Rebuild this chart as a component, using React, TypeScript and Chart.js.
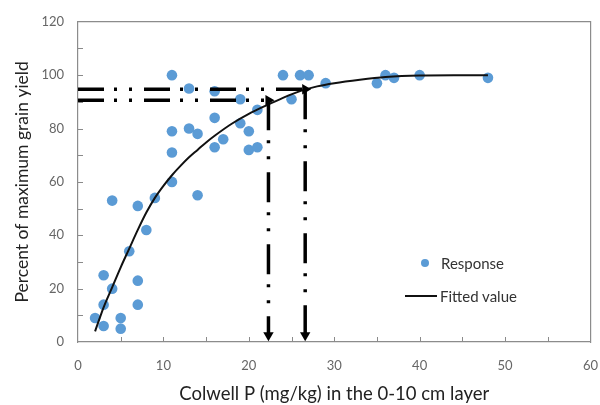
import React, { useEffect, useRef } from "react";
import { Chart, registerables } from "chart.js";

Chart.register(...registerables);

// Observed responses (Colwell P mg/kg, % of max grain yield)
const responseX = [2, 3, 3, 3, 4, 4, 5, 5, 6, 7, 7, 7, 8, 9, 11, 11, 11, 11, 13, 13, 14, 14, 16, 16, 16, 17, 19, 19, 20, 20, 21, 21, 24, 25, 26, 27, 29, 35, 36, 37, 40, 48];
const responseY = [9, 6, 14, 25, 20, 53, 5, 9, 34, 14, 23, 51, 42, 54, 60, 71, 79, 100, 80, 95, 55, 78, 73, 84, 94, 76, 82, 91, 72, 79, 73, 87, 100, 91, 100, 100, 97, 97, 100, 99, 100, 99];

// Fitted curve
const fittedX = [2, 3, 4, 5, 6, 7, 8, 9, 10, 11, 12, 13, 14, 15, 16, 18, 20, 22, 24, 26, 28, 30, 33, 36, 40, 44, 48];
const fittedY = [4, 13, 20.5, 28, 35, 42, 48.5, 54, 58.5, 62.5, 66, 69.2, 72, 74.8, 77.3, 81.8, 85.5, 88.6, 91.5, 94, 95.8, 97, 98.3, 99.3, 99.9, 100, 100];

// Critical values (arrows)
const criticalX = [22.3, 26.6];
const criticalY = [90.6, 94.7];

const xTicks = [0, 10, 20, 30, 40, 50, 60];
const yTicks = [0, 20, 40, 60, 80, 100, 120];

const BLUE = "#5B9BD5";
const FONT = "Lato, 'Open Sans', sans-serif";
const FRAME = "#8c8c8c";

const innerTicks = {
  id: "innerTicks",
  afterDatasetsDraw(chart: any) {
    const { ctx, chartArea, scales } = chart;
    ctx.save();
    ctx.setLineDash([]);
    ctx.strokeStyle = "#8a8a8a";
    ctx.lineWidth = 1;
    for (let v = 5; v < 60; v += 5) {
      const px = Math.round(scales.x.getPixelForValue(v)) + 0.5;
      ctx.beginPath();
      ctx.moveTo(px, chartArea.bottom);
      ctx.lineTo(px, chartArea.bottom - 5);
      ctx.stroke();
    }
    for (let v = 10; v < 120; v += 10) {
      const py = Math.round(scales.y.getPixelForValue(v)) + 0.5;
      ctx.beginPath();
      ctx.moveTo(chartArea.left, py);
      ctx.lineTo(chartArea.left + 5, py);
      ctx.stroke();
    }
    ctx.restore();
  },
};

export default function App() {
  const ref = useRef<HTMLCanvasElement>(null);

  useEffect(() => {
    if (!ref.current) return;
    const arrowDatasets: any[] = [];
    criticalX.forEach((cx, i) => {
      const cy = criticalY[i];
      arrowDatasets.push({
        type: "line",
        label: "h" + i,
        data: [{ x: 0, y: cy }, { x: cx, y: cy }],
        borderColor: "#000",
        backgroundColor: "#000",
        borderWidth: 3.5,
        borderDash: [26, 10, 3, 12, 3, 12],
        pointStyle: "triangle",
        rotation: 90,
        pointRadius: [0, 6],
        pointBorderWidth: 0,
        order: 0,
      });
      arrowDatasets.push({
        type: "line",
        label: "v" + i,
        data: [{ x: cx, y: cy }, { x: cx, y: 2.5 }],
        borderColor: "#000",
        backgroundColor: "#000",
        borderWidth: 3.5,
        borderDash: [30, 10, 3, 13, 3, 13],
        pointStyle: "triangle",
        rotation: 180,
        pointRadius: [0, 6],
        pointBorderWidth: 0,
        order: 0,
      });
    });

    const hiddenAxis = (position: string) => ({
      position,
      display: true,
      grid: { display: false, drawTicks: false },
      ticks: { display: false },
      border: { display: true, color: FRAME, width: 1.2 },
    });

    const chart = new Chart(ref.current, {
      type: "scatter",
      data: {
        datasets: [
          {
            type: "scatter",
            label: "Response",
            data: responseX.map((x, i) => ({ x, y: responseY[i] })),
            backgroundColor: BLUE,
            borderColor: BLUE,
            pointRadius: 5.3,
            pointBorderWidth: 0,
            order: 2,
          } as any,
          {
            type: "line",
            label: "Fitted value",
            data: fittedX.map((x, i) => ({ x, y: fittedY[i] })),
            borderColor: "#111",
            borderWidth: 2,
            pointRadius: 0,
            cubicInterpolationMode: "monotone",
            order: 1,
          } as any,
          ...arrowDatasets,
        ],
      },
      options: {
        responsive: false,
        animation: false,
        layout: { padding: { top: 20, right: 0, left: 0, bottom: 0 } },
        plugins: { legend: { display: false }, tooltip: { enabled: false } },
        scales: {
          x: {
            type: "linear",
            position: "bottom",
            min: 0,
            max: 60,
            afterBuildTicks: (s: any) => { s.ticks = xTicks.map((v) => ({ value: v })); },
            afterFit: (s: any) => { s.height = 63; },
            grid: { display: false, drawTicks: true, tickLength: 14 },
            border: { display: true, color: FRAME, width: 1.2 },
            ticks: { color: "#666", font: { family: FONT, size: 13 }, padding: 2 },
            title: { display: true, text: "Colwell P (mg/kg) in the 0-10 cm layer", color: "#222", font: { family: FONT, size: 18.5 }, padding: { top: 2, bottom: 0 } },
          },
          y: {
            type: "linear",
            position: "left",
            min: 0,
            max: 120,
            afterBuildTicks: (s: any) => { s.ticks = yTicks.map((v) => ({ value: v })); },
            afterFit: (s: any) => { s.width = 78; },
            grid: { display: false, drawTicks: false },
            border: { display: true, color: FRAME, width: 1.2 },
            ticks: { color: "#666", font: { family: FONT, size: 13 }, padding: 14 },
            title: { display: true, text: "Percent of maximum grain yield", color: "#222", font: { family: FONT, size: 17.5 }, padding: { top: 12, bottom: 0 } },
          },
          xTop: { type: "linear", min: 0, max: 60, ...hiddenAxis("top") },
          yRight: { type: "linear", min: 0, max: 120, ...hiddenAxis("right") },
        },
      },
      plugins: [innerTicks],
    } as any);
    return () => chart.destroy();
  }, []);

  return (
    <div style={{ position: "fixed", left: 0, top: 0, width: 600, height: 405, background: "#fff" }}>
      <canvas ref={ref} width={600} height={405} />
      <div style={{ position: "absolute", left: 405, top: 252, fontFamily: FONT, fontSize: 15, color: "#333", lineHeight: "22px" }}>
        <div style={{ display: "flex", alignItems: "center", height: 22 }}>
          <span style={{ display: "inline-block", width: 8, height: 8, borderRadius: 4, background: BLUE, marginLeft: 16, marginRight: 12 }} />
          <span>Response</span>
        </div>
        <div style={{ display: "flex", alignItems: "center", height: 22, marginTop: 11 }}>
          <span style={{ display: "inline-block", width: 32, height: 2, background: "#111", marginRight: 3 }} />
          <span>Fitted value</span>
        </div>
      </div>
    </div>
  );
}
